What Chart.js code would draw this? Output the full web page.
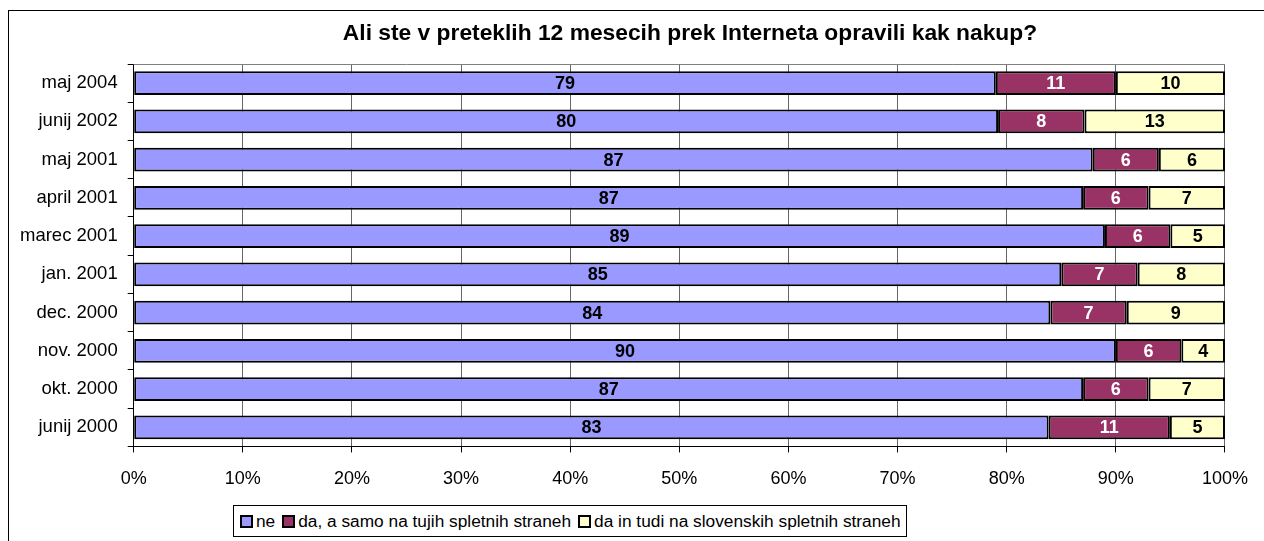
<!DOCTYPE html>
<html>
<head>
<meta charset="utf-8">
<script src="https://cdn.jsdelivr.net/npm/chart.js@4.4.1/dist/chart.umd.min.js"></script>
<style>
    html, body { margin: 0; padding: 0; background: #fff; overflow: hidden; }
    #wrap { position: relative; width: 1264px; height: 541px; }
    #frame { position: absolute; left: 8px; top: 10px; width: 1300px; height: 600px; border: 1px solid #000; box-sizing: border-box; }
    #chart { position: absolute; left: 0; top: 0; }
    #title {
        position: absolute; left: 290px; width: 800px; top: 19px; text-align: center;
        font-family: "Liberation Sans", Arial, sans-serif; font-weight: bold; font-size: 22.8px; color: #000;
        white-space: nowrap;
    }
    #legend {
        position: absolute; left: 233px; top: 505px; height: 32px; width: 674px;
        border: 1px solid #000; box-sizing: border-box; background: #fff;
        font-family: "Liberation Sans", Arial, sans-serif; font-size: 17.3px; color: #000;
        display: flex; align-items: center; padding-left: 6px; white-space: nowrap;
    }
    #legend span.box { display: inline-block; width: 9px; height: 9px; border: 2px solid #000; margin-right: 3px; }
    #legend span.item { margin-right: 7px; display: inline-flex; align-items: center; }
</style>
</head>
<body>
<div id="wrap">
    <div id="frame"></div>
    <canvas id="chart" width="1264" height="541"></canvas>
    <div id="title">Ali ste v preteklih 12 mesecih prek Interneta opravili kak nakup?</div>
    <div id="legend"></div>
</div>
<script>
const categories = ["maj 2004", "junij 2002", "maj 2001", "april 2001", "marec 2001",
    "jan. 2001", "dec. 2000", "nov. 2000", "okt. 2000", "junij 2000"];
const seriesNames = ["ne", "da, a samo na tujih spletnih straneh", "da in tudi na slovenskih spletnih straneh"];
const neValues = [79, 80, 87, 87, 89, 85, 84, 90, 87, 83];
const tujeValues = [11, 8, 6, 6, 6, 7, 7, 6, 6, 11];
const slovValues = [10, 13, 6, 7, 5, 8, 9, 4, 7, 5];
const xTicks = [0, 10, 20, 30, 40, 50, 60, 70, 80, 90, 100];

const colors = ["#9999FF", "#993366", "#FFFFCC"];
const labelColors = ["#000", "#fff", "#000"];
const raw = [neValues, tujeValues, slovValues];

// 100% stacked: normalise each row
const totals = categories.map((c, i) => neValues[i] + tujeValues[i] + slovValues[i]);
const datasets = raw.map((vals, s) => ({
    label: seriesNames[s],
    data: vals.map((v, i) => v / totals[i] * 100),
    rawValues: vals,
    backgroundColor: colors[s],
    borderColor: "#000",
    borderWidth: 2,
    borderSkipped: false,
    barPercentage: 0.62,
    categoryPercentage: 1
}));

// legend
const legendEl = document.getElementById("legend");
seriesNames.forEach((name, s) => {
    const item = document.createElement("span");
    item.className = "item";
    item.innerHTML = `<span class="box" style="background:${colors[s]}"></span>${name}`;
    legendEl.appendChild(item);
});

// value labels inside the bars
const barLabels = {
    id: "barLabels",
    afterDatasetsDraw(chart) {
        const ctx = chart.ctx;
        ctx.save();
        ctx.font = "bold 18px 'Liberation Sans', Arial, sans-serif";
        ctx.textAlign = "center";
        ctx.textBaseline = "middle";
        chart.data.datasets.forEach((ds, s) => {
            chart.getDatasetMeta(s).data.forEach((bar, i) => {
                const x = (bar.x + bar.base) / 2;
                ctx.fillStyle = labelColors[s];
                ctx.fillText(ds.rawValues[i], x, bar.y + 1);
            });
        });
        ctx.restore();
    }
};

// top edge of the plot area
const plotTop = {
    id: "plotTop",
    beforeDatasetsDraw(chart) {
        const a = chart.chartArea, ctx = chart.ctx;
        ctx.save();
        ctx.strokeStyle = "#808080";
        ctx.lineWidth = 1;
        ctx.beginPath();
        ctx.moveTo(a.left, a.top + 0.5);
        ctx.lineTo(a.right, a.top + 0.5);
        ctx.stroke();
        ctx.restore();
    }
};

Chart.defaults.font.family = "'Liberation Sans', Arial, sans-serif";
Chart.defaults.color = "#000";

new Chart(document.getElementById("chart"), {
    type: "bar",
    data: { labels: categories, datasets: datasets },
    options: {
        indexAxis: "y",
        responsive: false,
        animation: false,
        layout: { padding: { left: 10, right: 37, top: 64, bottom: 35 } },
        plugins: {
            legend: { display: false },
            tooltip: { enabled: false },
            title: { display: false }
        },
        scales: {
            x: {
                stacked: true,
                min: 0,
                max: 100,
                afterBuildTicks(axis) { axis.ticks = xTicks.map(v => ({ value: v })); },
                ticks: { callback: v => v + "%", font: { size: 18 }, padding: 16, maxRotation: 0 },
                grid: { color: "#666", lineWidth: 1, tickLength: 6, drawTicks: true, tickColor: "#000" },
                border: { color: "#000", width: 1 }
            },
            y: {
                stacked: true,
                ticks: { font: { size: 18.5 }, padding: 10 },
                grid: { offset: true, drawOnChartArea: false, tickLength: 6, color: "#000" },
                border: { color: "#000", width: 1 }
            }
        }
    },
    plugins: [barLabels, plotTop]
});
</script>
</body>
</html>
